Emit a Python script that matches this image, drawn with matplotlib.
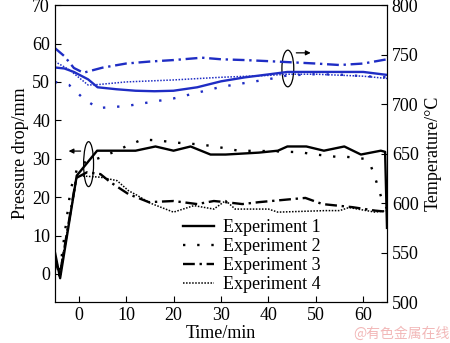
import matplotlib.pyplot as plt
from matplotlib.patches import Ellipse

plt.rcParams['font.family'] = ['Liberation Serif', 'DejaVu Serif']
plt.rcParams['mathtext.fontset'] = 'stix'

blue = '#1f2dc4'

# pressure drop (left axis), black curves
t1 = [-5, -3.9, -0.4, 3.9, 12, 16.2, 20, 23.6, 27.8, 31, 38, 42, 44, 48, 51.7, 56, 59.5, 63.7, 64.6, 65]
p1 = [5.7, -1.1, 25.6, 32.1, 32.1, 33.2, 32.1, 33.2, 31.1, 31.1, 31.6, 32.1, 33.2, 33.2, 32.1, 33.2, 31.1, 32.1, 31.8, 12]
t2 = [-5, -4, -1.7, 0, 3.9, 6, 10.3, 13.4, 16.5, 20.6, 24.8, 28.3, 33.7, 40, 46.8, 49.3, 54.4, 56.5, 60.2, 61.5, 62.5, 63.3, 64, 65]
p2 = [3.5, 0.5, 22, 28.6, 30, 31, 33.4, 35, 34.8, 34.2, 33.8, 33.3, 32.1, 32, 31.7, 31.2, 30.5, 30.5, 30, 28.5, 25, 22, 19, 17]
t3 = [-5, -4, -0.5, 1.8, 4.6, 6.7, 10.5, 14.8, 20, 25, 28.5, 31, 34.5, 38, 45, 47.8, 51.4, 57.7, 62.5, 65]
p3 = [4, -0.5, 25, 26.5, 26, 23.9, 20.8, 18.7, 19, 18.2, 19, 18.7, 18.2, 18.7, 19.5, 19.8, 18.2, 17.4, 16.5, 16.2]
t4 = [-5, -4, -0.3, 4.6, 8.1, 10.5, 12.3, 15, 20, 24.3, 28.5, 31, 33, 40, 42, 52, 55, 57, 62.5, 65]
p4 = [5, 0, 25.6, 25.2, 24.3, 21.7, 20.5, 18.5, 16.1, 17.8, 16.9, 19.1, 16.9, 16.9, 16.1, 16.5, 16.5, 17.3, 16.1, 16.5]

# temperature (right axis), blue curves
tt1 = [-5, -3, -1, 2, 4, 8, 12, 16, 20, 25, 30, 35, 40, 44, 50, 55, 60, 65]
T1 = [737, 736, 732.5, 725, 717, 715, 713.5, 713, 713.5, 717, 723, 727, 730, 732.5, 732.5, 732.5, 732.5, 729.5]
tt2 = [-5, -2, 1, 4, 10, 15, 20, 25, 30, 35, 40, 44, 50, 55, 60, 65]
T2 = [722.4, 719.3, 705.7, 696, 698, 701.9, 705.7, 711.5, 717.4, 721.3, 725.1, 729, 730.2, 729.8, 728.2, 727.1]
tt3 = [-5, -3, -1, 1, 5, 10, 15, 20, 26, 30, 35, 40, 45, 50, 55, 60, 65]
T3 = [756.6, 748.4, 736.5, 731.7, 736.8, 741, 743, 744.5, 746.9, 745.3, 744.5, 743.4, 742.2, 741, 739.5, 741, 745.3]
tt4 = [-5, -2, 2, 4, 10, 20, 30, 40, 44, 50, 60, 65]
T4 = [743, 734.8, 719.3, 719.7, 722.4, 724.4, 727.1, 729, 730.2, 730.2, 728.2, 725.9]

labels = ['Experiment 1', 'Experiment 2', 'Experiment 3', 'Experiment 4']
styles = ['-', (0, (1, 5)), (0, (5, 2, 1, 2)), (0, (1, 1))]
widths = [1.7, 1.7, 1.7, 1.1]

fig = plt.figure(figsize=(4.5, 3.43), dpi=100)
ax = fig.add_axes([0.122, 0.1195, 0.738, 0.8655])
ax2 = ax.twinx()

for t, p, ls, lw, lab in zip([t1, t2, t3, t4], [p1, p2, p3, p4], styles, widths, labels):
    ax.plot(t, p, color='black', linestyle=ls, linewidth=lw, label=lab)
for t, T, ls, lw in zip([tt1, tt2, tt3, tt4], [T1, T2, T3, T4], styles, widths):
    ax2.plot(t, T, color=blue, linestyle=ls, linewidth=lw)

ax.set_xlim(-5, 65)
ax.set_ylim(-7.3, 70)
ax2.set_ylim(500, 800)
ax.set_xticks(range(0, 61, 10))
ax.set_yticks(range(0, 71, 10))
ax2.set_yticks(range(500, 801, 50))
ax.tick_params(direction='in', length=4, labelsize=13, top=False)
ax2.tick_params(direction='in', length=4, labelsize=13)

ax.set_xlabel('Time/min', fontsize=13, labelpad=1)
ax.set_ylabel('Pressure drop/mm', fontsize=13, labelpad=2)
ax2.set_ylabel('Temperature/°C', fontsize=13, labelpad=4)

# ellipse markers with arrows
ax.add_patch(Ellipse((2.1, 28.6), 2.1, 11.7, fill=False, color='black', lw=0.9))
ax.annotate('', xy=(-2.7, 32), xytext=(1.0, 32),
            arrowprops=dict(arrowstyle='-|>', color='black', lw=0.9, mutation_scale=7))
ax2.add_patch(Ellipse((44.1, 736), 2.5, 37, fill=False, color='black', lw=0.9))
ax2.annotate('', xy=(49.5, 751.8), xytext=(45.3, 751.8),
             arrowprops=dict(arrowstyle='-|>', color='black', lw=0.9, mutation_scale=7))

ax.legend(loc='upper left', bbox_to_anchor=(0.386, 0.28), frameon=False, fontsize=13,
          handlelength=1.7, handletextpad=0.5, labelspacing=0.12, borderpad=0, borderaxespad=0)

fig.text(0.785, 0.015, '@有色金属在线', color='#f2b8b8', fontsize=10,
         family=['Noto Sans CJK SC', 'DejaVu Sans'])

fig.savefig('out.png', dpi=100)
